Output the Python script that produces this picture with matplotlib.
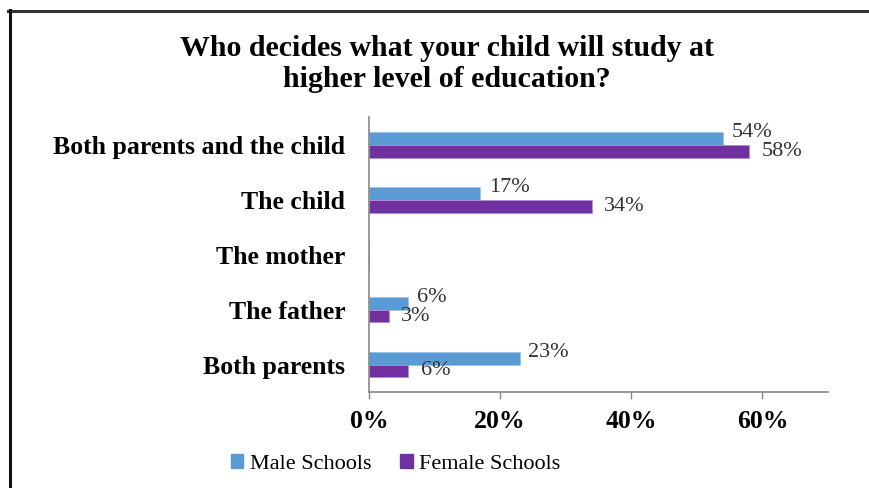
import matplotlib.pyplot as plt
from matplotlib.lines import Line2D
import numpy as np

categories = ['Both parents and the child', 'The child', 'The mother', 'The father', 'Both parents']
male = [54, 17, 0, 6, 23]
female = [58, 34, 0, 3, 6]
male_labels = ['54%', '17%', '', '6%', '23%']
female_labels = ['58%', '34%', '', '3%', '6%']
ticks = [0, 20, 40, 60]

blue = '#5B9BD5'
purple = '#7030A0'
serif = 'Liberation Serif'

fig = plt.figure(figsize=(8.7, 4.88), dpi=100)
ax = fig.add_axes([0.4241, 0.1967, 0.5276, 0.5633])

y = np.arange(len(categories))
h = 0.235
ax.barh(y - h / 2, male, height=h, color=blue, edgecolor='#9DC3E6', linewidth=0.6)
ax.barh(y + h / 2, female, height=h, color=purple, edgecolor='#B18FD0', linewidth=0.6)

for i in range(len(categories)):
    if male_labels[i]:
        ax.annotate(male_labels[i], (male[i], y[i] - h / 2), xytext=(6, 4), textcoords='offset points',
                    va='center', ha='left', fontsize=16, family=serif, color='#333333')
    if female_labels[i]:
        ax.annotate(female_labels[i], (female[i], y[i] + h / 2), xytext=(9, 0), textcoords='offset points',
                    va='center', ha='left', fontsize=16, family=serif, color='#333333')

ax.set_ylim(len(categories) - 0.5, -0.5)
ax.set_xlim(0, 70)
ax.set_yticks(y)
ax.set_yticklabels(categories, fontsize=18.5, fontweight='bold', family=serif)
ax.set_xticks(ticks)
ax.set_xticklabels([f'{t}%' for t in ticks], fontsize=18.5, fontweight='bold', family=serif)
ax.tick_params(axis='y', length=0, pad=17)
ax.tick_params(axis='x', length=5, width=1, color='#888888', pad=8)
for s in ['top', 'right']:
    ax.spines[s].set_visible(False)
for s in ['left', 'bottom']:
    ax.spines[s].set_color('#888888')
    ax.spines[s].set_linewidth(1.2)

fig.text(0.514, 0.900, 'Who decides what your child will study at', ha='center', va='center',
         fontsize=21.5, fontweight='bold', family=serif)
fig.text(0.514, 0.838, 'higher level of education?', ha='center', va='center',
         fontsize=21.5, fontweight='bold', family=serif)

handles = [plt.Rectangle((0, 0), 1, 1, color=blue), plt.Rectangle((0, 0), 1, 1, color=purple)]
fig.legend(handles, ['Male Schools', 'Female Schools'], loc='center', bbox_to_anchor=(0.455, 0.049),
           ncol=2, frameon=False, prop={'family': serif, 'size': 16}, handlelength=0.55, handleheight=0.55,
           handletextpad=0.3, columnspacing=1.3)

# outer frame (top and left edges only visible)
fig.add_artist(Line2D([0.009, 1.0], [0.978, 0.978], color='#333333', linewidth=2.2))
fig.add_artist(Line2D([0.011, 0.011], [0.0, 0.979], color='#111111', linewidth=2.2))

fig.savefig('out.png', dpi=100)
